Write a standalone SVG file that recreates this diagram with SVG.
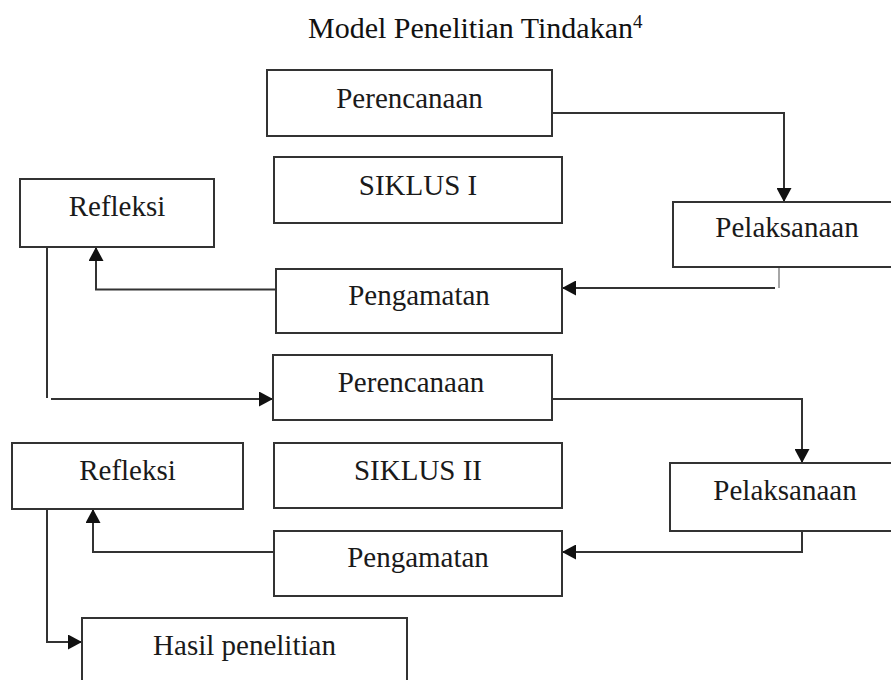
<svg xmlns="http://www.w3.org/2000/svg" width="891" height="680" viewBox="0 0 891 680">
<style>
.box{fill:#fff;stroke:#333;stroke-width:2}
.lbl{font-family:"Liberation Serif","Times New Roman",serif;font-size:29px;fill:#1a1a1a;text-anchor:middle}
.title{font-family:"Liberation Serif","Times New Roman",serif;font-size:30px;fill:#111}
.ln{fill:none;stroke:#333;stroke-width:2}
.ln2{fill:none;stroke:#888;stroke-width:1.5}
</style>
<defs>
<marker id="ah" markerUnits="userSpaceOnUse" markerWidth="15" markerHeight="15" refX="14" refY="7.5" orient="auto">
<path d="M0,0 L14,7.5 L0,15 z" fill="#111"/>
</marker>
</defs>
<rect width="891" height="680" fill="#fff"/>
<text class="title" x="308" y="38">Model Penelitian Tindakan<tspan font-size="19" dy="-10">4</tspan></text>

<g id="connectors">
<path class="ln" d="M552,113 H784 V202" marker-end="url(#ah)"/>
<path class="ln2" d="M779,267 V288"/>
<path class="ln" d="M775,288 H562" marker-end="url(#ah)"/>
<path class="ln" d="M276,289.5 H96 V247" marker-end="url(#ah)"/>
<path class="ln" d="M47,247 V398"/>
<path class="ln" d="M51,399 H273" marker-end="url(#ah)"/>
<path class="ln" d="M552,399 H802 V463" marker-end="url(#ah)"/>
<path class="ln" d="M802,531 V552 H562" marker-end="url(#ah)"/>
<path class="ln" d="M281,552 H93 V509" marker-end="url(#ah)"/>
<path class="ln" d="M47,509 V642 H82" marker-end="url(#ah)"/>
</g>

<g id="perencanaan1"><rect class="box" x="267" y="70" width="285" height="66"/><text class="lbl" x="409.5" y="108">Perencanaan</text></g>
<g id="siklus1"><rect class="box" x="274" y="157" width="288" height="66"/><text class="lbl" x="418" y="195">SIKLUS I</text></g>
<g id="refleksi1"><rect class="box" x="20" y="179" width="194" height="68"/><text class="lbl" x="117" y="216">Refleksi</text></g>
<g id="pelaksanaan1"><rect class="box" x="673" y="202" width="230" height="65"/><text class="lbl" x="787" y="237">Pelaksanaan</text></g>
<g id="pengamatan1"><rect class="box" x="276" y="269" width="286" height="64"/><text class="lbl" x="419" y="305">Pengamatan</text></g>
<g id="perencanaan2"><rect class="box" x="273" y="355" width="279" height="65"/><text class="lbl" x="411" y="392">Perencanaan</text></g>
<g id="refleksi2"><rect class="box" x="12" y="443" width="231" height="66"/><text class="lbl" x="127.5" y="480">Refleksi</text></g>
<g id="siklus2"><rect class="box" x="274" y="443" width="288" height="65"/><text class="lbl" x="418" y="480">SIKLUS II</text></g>
<g id="pelaksanaan2"><rect class="box" x="670" y="463" width="233" height="68"/><text class="lbl" x="785" y="500">Pelaksanaan</text></g>
<g id="pengamatan2"><rect class="box" x="274" y="531" width="288" height="65"/><text class="lbl" x="418" y="567">Pengamatan</text></g>
<g id="hasil"><rect class="box" x="82" y="618" width="325" height="80"/><text class="lbl" x="244.5" y="655">Hasil penelitian</text></g>
</svg>
